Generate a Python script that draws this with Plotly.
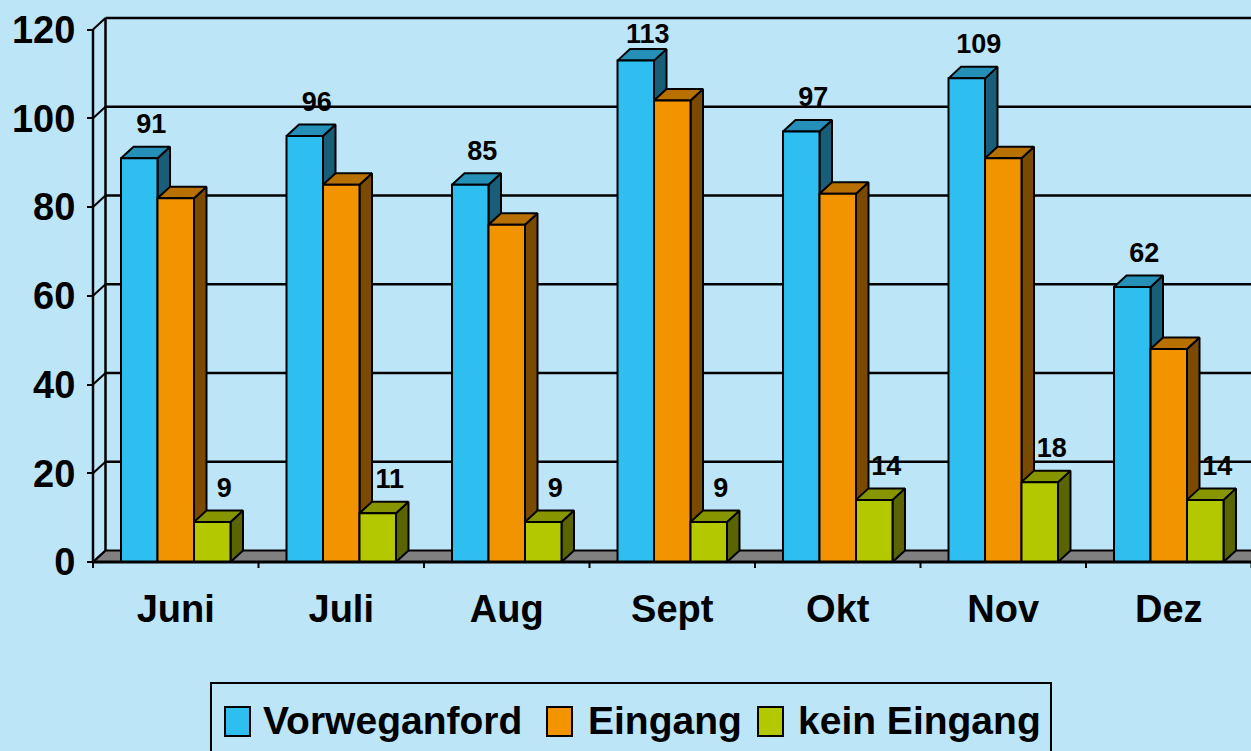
import plotly.graph_objects as go

# ---------------- data ----------------
months = ["Juni", "Juli", "Aug", "Sept", "Okt", "Nov", "Dez"]
vorweganford = [91, 96, 85, 113, 97, 109, 62]
eingang = [82, 85, 76, 104, 83, 91, 48]
kein_eingang = [9, 11, 9, 9, 14, 18, 14]
series_names = ["Vorweganford", "Eingang", "kein Eingang"]
y_ticks = [0, 20, 40, 60, 80, 100, 120]

# ---------------- style ----------------
W, H = 1251, 751
BG = "#BDE5F8"
FONT = "Liberation Sans, Arial, sans-serif"
front_cols = ["#2FBEF0", "#F29400", "#B4C800"]
top_cols = ["#2490B8", "#B87000", "#879600"]
side_cols = ["#185E78", "#7A4A00", "#5A6400"]
labelled = [True, False, True]

# pixel geometry -> axis ranges
X0_PX = 93.0        # front left axis
CAT_PX = 165.5      # category width in px
Y0_PX = 562.0       # y=0 pixel row
YU_PX = 4.437       # px per y unit
DX_PX, DY_PX = 12.5, 11.5  # 3D depth offset

xr = [-0.5 - X0_PX / CAT_PX, -0.5 + (W - X0_PX) / CAT_PX]
yr = [-(H - Y0_PX) / YU_PX, Y0_PX / YU_PX]
dx = DX_PX / CAT_PX
dy = DY_PX / YU_PX
bw = 0.2205  # bar width in category units

fig = go.Figure()

series = [vorweganford, eingang, kein_eingang]
for k, vals in enumerate(series):
    sx, sy, tx, ty, fx, fy = [], [], [], [], [], []
    for i, v in enumerate(vals):
        x0 = i + (k - 1.5) * bw
        x1 = x0 + bw
        sx += [x1, x1 + dx, x1 + dx, x1, x1, None]
        sy += [0, dy, v + dy, v, 0, None]
        tx += [x0, x1, x1 + dx, x0 + dx, x0, None]
        ty += [v, v, v + dy, v + dy, v, None]
        fx += [x0, x1, x1, x0, x0, None]
        fy += [0, 0, v, v, 0, None]
    for xs, ys, col in [(sx, sy, side_cols[k]), (tx, ty, top_cols[k]), (fx, fy, front_cols[k])]:
        fig.add_trace(go.Scatter(x=xs, y=ys, mode="lines", fill="toself", fillcolor=col,
                                 line=dict(color="black", width=2), hoverinfo="skip",
                                 showlegend=False, name=series_names[k]))

# data labels
for k, vals in enumerate(series):
    if not labelled[k]:
        continue
    lx = [i + (k - 1.5) * bw + bw / 2 + 12 / CAT_PX for i in range(len(vals))]
    ly = [min(v + 32 / YU_PX, (Y0_PX - 36) / YU_PX) for v in vals]
    fig.add_trace(go.Scatter(x=lx, y=ly, mode="text", text=[str(v) for v in vals],
                             textposition="middle center",
                             textfont=dict(family=FONT, size=27, color="black", weight="bold"),
                             hoverinfo="skip", showlegend=False))

shapes = []
xmax = xr[1] + 1
# floor
shapes.append(dict(type="path", xref="x", yref="y", layer="below",
                   path=f"M {-0.5},0 L {xmax},0 L {xmax + dx},{dy} L {-0.5 + dx},{dy} Z",
                   fillcolor="#808080", line=dict(color="black", width=2)))
# back wall gridlines and left edges
for v in y_ticks:
    if v > 0:
        shapes.append(dict(type="line", xref="x", yref="y", layer="below",
                           x0=-0.5 + dx, x1=xmax, y0=v + dy, y1=v + dy,
                           line=dict(color="black", width=2.5)))
    shapes.append(dict(type="line", xref="x", yref="y", layer="below",
                       x0=-0.5, x1=-0.5 + dx, y0=v, y1=v + dy,
                       line=dict(color="black", width=2)))
shapes.append(dict(type="line", xref="x", yref="y", layer="below",
                   x0=-0.5 + dx, x1=-0.5 + dx, y0=dy, y1=y_ticks[-1] + dy,
                   line=dict(color="black", width=2.5)))
# front axis line
shapes.append(dict(type="line", xref="x", yref="y", layer="above",
                   x0=-0.5, x1=-0.5, y0=0, y1=y_ticks[-1],
                   line=dict(color="black", width=2.5)))
shapes.append(dict(type="line", xref="x", yref="y", layer="above",
                   x0=-0.5, x1=xmax, y0=0, y1=0,
                   line=dict(color="black", width=3)))
# category boundary ticks
for i in range(len(months) + 1):
    shapes.append(dict(type="line", xref="x", yref="y", layer="above",
                       x0=i - 0.5, x1=i - 0.5, y0=0, y1=-6 / YU_PX,
                       line=dict(color="black", width=2)))

# custom legend
def px_x(p):
    return p / W

def px_y(p):
    return 1 - p / H

shapes.append(dict(type="rect", xref="paper", yref="paper",
                   x0=px_x(211), x1=px_x(1051), y0=px_y(H + 20), y1=px_y(683),
                   line=dict(color="black", width=2), fillcolor="rgba(0,0,0,0)"))
leg_sq = [225, 547, 758]
leg_tx = [261, 586, 796]
annotations = []
for k in range(3):
    shapes.append(dict(type="rect", xref="paper", yref="paper",
                       x0=px_x(leg_sq[k]), x1=px_x(leg_sq[k] + 25),
                       y0=px_y(736), y1=px_y(707),
                       fillcolor=front_cols[k], line=dict(color="black", width=2)))
    annotations.append(dict(xref="paper", yref="paper", x=px_x(leg_tx[k]), y=px_y(720),
                            xanchor="left", yanchor="middle", showarrow=False,
                            text=series_names[k],
                            font=dict(family=FONT, size=39, color="black", weight="bold")))

fig.update_layout(
    width=W, height=H,
    margin=dict(l=0, r=0, t=0, b=0, autoexpand=False),
    paper_bgcolor=BG, plot_bgcolor=BG,
    showlegend=False,
    shapes=shapes, annotations=annotations,
    xaxis=dict(range=xr, showgrid=False, zeroline=False, showline=False,
               tickmode="array", tickvals=list(range(len(months))), ticktext=months,
               ticks="", anchor="free", position=(H - Y0_PX) / H, automargin=False,
               ticklabelstandoff=21,
               tickfont=dict(family=FONT, size=38, color="black", weight="bold")),
    yaxis=dict(range=yr, showgrid=False, zeroline=False, showline=False,
               tickmode="array", tickvals=y_ticks, ticks="outside", ticklen=6,
               tickwidth=2, tickcolor="black", anchor="free", position=X0_PX / W,
               automargin=False, ticklabelstandoff=4,
               tickfont=dict(family=FONT, size=38, color="black", weight="bold")),
)

fig.write_html("out.html", config={"displayModeBar": False},
               post_script=("document.body.style.margin='0';"
                            "document.body.style.overflow='hidden';"
                            f"document.body.style.background='{BG}';"))
